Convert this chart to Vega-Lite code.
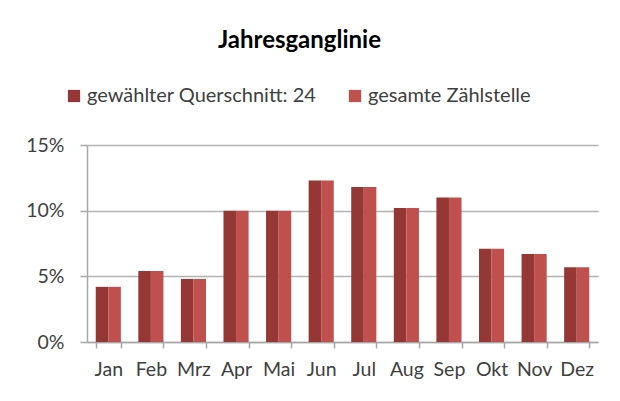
{
  "$schema": "https://vega.github.io/schema/vega-lite/v6.json",
  "width": 511,
  "height": 197,
  "autosize": {"type": "none"},
  "padding": {"left": 87, "top": 145, "right": 22, "bottom": 59},
  "background": "white",
  "config": {
    "font": "Lato",
    "view": {"stroke": null},
    "axis": {"labelFont": "Lato", "labelColor": "#404040", "labelFontSize": 19.5}
  },
  "title": {
    "text": "Jahresganglinie",
    "fontSize": 24,
    "fontWeight": "bold",
    "color": "#000000",
    "font": "Lato",
    "offset": 33,
    "dx": -43
  },
  "data": {
    "values": [
      {"Monat": "Jan", "Serie": "gewählter Querschnitt: 24", "Anteil": 0.042},
      {"Monat": "Jan", "Serie": "gesamte Zählstelle", "Anteil": 0.042},
      {"Monat": "Feb", "Serie": "gewählter Querschnitt: 24", "Anteil": 0.054},
      {"Monat": "Feb", "Serie": "gesamte Zählstelle", "Anteil": 0.054},
      {"Monat": "Mrz", "Serie": "gewählter Querschnitt: 24", "Anteil": 0.048},
      {"Monat": "Mrz", "Serie": "gesamte Zählstelle", "Anteil": 0.048},
      {"Monat": "Apr", "Serie": "gewählter Querschnitt: 24", "Anteil": 0.100},
      {"Monat": "Apr", "Serie": "gesamte Zählstelle", "Anteil": 0.100},
      {"Monat": "Mai", "Serie": "gewählter Querschnitt: 24", "Anteil": 0.100},
      {"Monat": "Mai", "Serie": "gesamte Zählstelle", "Anteil": 0.100},
      {"Monat": "Jun", "Serie": "gewählter Querschnitt: 24", "Anteil": 0.123},
      {"Monat": "Jun", "Serie": "gesamte Zählstelle", "Anteil": 0.123},
      {"Monat": "Jul", "Serie": "gewählter Querschnitt: 24", "Anteil": 0.118},
      {"Monat": "Jul", "Serie": "gesamte Zählstelle", "Anteil": 0.118},
      {"Monat": "Aug", "Serie": "gewählter Querschnitt: 24", "Anteil": 0.102},
      {"Monat": "Aug", "Serie": "gesamte Zählstelle", "Anteil": 0.102},
      {"Monat": "Sep", "Serie": "gewählter Querschnitt: 24", "Anteil": 0.110},
      {"Monat": "Sep", "Serie": "gesamte Zählstelle", "Anteil": 0.110},
      {"Monat": "Okt", "Serie": "gewählter Querschnitt: 24", "Anteil": 0.071},
      {"Monat": "Okt", "Serie": "gesamte Zählstelle", "Anteil": 0.071},
      {"Monat": "Nov", "Serie": "gewählter Querschnitt: 24", "Anteil": 0.067},
      {"Monat": "Nov", "Serie": "gesamte Zählstelle", "Anteil": 0.067},
      {"Monat": "Dez", "Serie": "gewählter Querschnitt: 24", "Anteil": 0.057},
      {"Monat": "Dez", "Serie": "gesamte Zählstelle", "Anteil": 0.057}
    ]
  },
  "mark": {"type": "bar"},
  "encoding": {
    "x": {
      "field": "Monat",
      "type": "nominal",
      "sort": ["Jan", "Feb", "Mrz", "Apr", "Mai", "Jun", "Jul", "Aug", "Sep", "Okt", "Nov", "Dez"],
      "scale": {"paddingInner": 0.41, "paddingOuter": 0.205},
      "axis": {
        "title": null,
        "labelAngle": 0,
        "tickBand": "extent",
        "domainColor": "#a6a6a6",
        "domainWidth": 1.5,
        "tickColor": "#a6a6a6",
        "tickWidth": 1.5,
        "tickSize": 6,
        "labelPadding": 12,
        "grid": false
      }
    },
    "xOffset": {
      "field": "Serie",
      "type": "nominal",
      "sort": ["gewählter Querschnitt: 24", "gesamte Zählstelle"],
      "scale": {"paddingInner": 0, "paddingOuter": 0}
    },
    "y": {
      "field": "Anteil",
      "type": "quantitative",
      "scale": {"domain": [0, 0.15], "nice": false},
      "axis": {
        "title": null,
        "values": [0, 0.05, 0.1, 0.15],
        "format": ".0%",
        "domainColor": "#a6a6a6",
        "domainWidth": 1.5,
        "tickColor": "#a6a6a6",
        "tickWidth": 1.5,
        "tickSize": 7,
        "labelPadding": 16,
        "gridColor": "#b3b3b3",
        "gridWidth": 1.5
      }
    },
    "color": {
      "field": "Serie",
      "type": "nominal",
      "sort": ["gewählter Querschnitt: 24", "gesamte Zählstelle"],
      "scale": {"domain": ["gewählter Querschnitt: 24", "gesamte Zählstelle"], "range": ["#953735", "#c0504d"]},
      "legend": {
        "title": null,
        "orient": "none",
        "direction": "horizontal",
        "legendX": -23,
        "legendY": -59,
        "symbolType": "square",
        "symbolSize": 150,
        "symbolStrokeWidth": 0,
        "labelFont": "Lato",
        "labelFontSize": 20,
        "labelLimit": 400,
        "labelColor": "#404040",
        "labelOffset": 3,
        "columnPadding": 28
      }
    }
  }
}
